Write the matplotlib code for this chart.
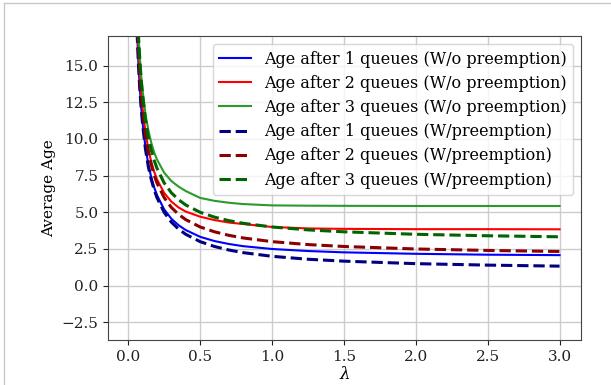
import matplotlib
matplotlib.use("Agg")
import matplotlib.pyplot as plt
from matplotlib.lines import Line2D

plt.rcParams['font.family'] = 'DejaVu Serif'
plt.rcParams['mathtext.fontset'] = 'dejavuserif'

# arrival rate
lam = [0.01, 0.03, 0.05, 0.06, 0.07, 0.08, 0.09, 0.1, 0.12, 0.14, 0.16, 0.18, 0.2,
       0.25, 0.3, 0.35, 0.4, 0.5, 0.6, 0.7, 0.8, 1.0, 1.25, 1.5, 2.0, 2.5, 3.0]

# without preemption
age_1_wo = [101.0, 34.36, 21.05, 17.72, 15.35, 13.57, 12.19, 11.09, 9.44, 8.27, 7.39, 6.71, 6.17,
            5.2, 4.56, 4.12, 3.79, 3.33, 3.04, 2.84, 2.69, 2.5, 2.36, 2.27, 2.17, 2.11, 2.08]
age_2_wo = [102.0, 35.35, 22.05, 18.7, 16.35, 14.57, 13.2, 12.1, 10.45, 9.3, 8.45, 7.78, 7.25,
            6.32, 5.73, 5.33, 5.05, 4.7, 4.47, 4.3, 4.2, 4.0, 3.9, 3.87, 3.85, 3.85, 3.84]
age_3_wo = [103.0, 36.4, 23.1, 19.85, 17.5, 15.7, 14.35, 13.3, 11.7, 10.6, 9.75, 9.1, 8.6,
            7.7, 7.13, 6.75, 6.45, 5.98, 5.78, 5.65, 5.56, 5.47, 5.45, 5.44, 5.43, 5.43, 5.43]

# with preemption
age_1_w = [101.0, 34.3, 21.0, 17.7, 15.3, 13.5, 12.1, 11.0, 9.3, 8.1, 7.25, 6.55, 6.0,
           5.0, 4.33, 3.86, 3.5, 3.0, 2.67, 2.43, 2.25, 2.0, 1.8, 1.67, 1.5, 1.4, 1.33]
age_2_w = [102.0, 35.3, 22.0, 18.7, 16.3, 14.5, 13.1, 12.0, 10.3, 9.1, 8.25, 7.55, 7.0,
           6.0, 5.33, 4.86, 4.5, 4.0, 3.67, 3.43, 3.25, 3.0, 2.8, 2.67, 2.5, 2.4, 2.33]
age_3_w = [103.0, 36.3, 23.0, 19.7, 17.3, 15.5, 14.1, 13.0, 11.3, 10.1, 9.25, 8.55, 8.0,
           7.0, 6.33, 5.86, 5.5, 5.0, 4.67, 4.43, 4.25, 4.0, 3.8, 3.67, 3.5, 3.4, 3.33]

fig = plt.figure(figsize=(6.11, 3.85), dpi=100)
ax = fig.add_axes([0.177, 0.117, 0.774, 0.789])

ax.plot(lam, age_1_wo, color='blue', lw=1.5, label='Age after 1 queues (W/o preemption)')
ax.plot(lam, age_2_wo, color='red', lw=1.5, label='Age after 2 queues (W/o preemption)')
ax.plot(lam, age_3_wo, color='#2a9a2a', lw=1.5, label='Age after 3 queues (W/o preemption)')
ax.plot(lam, age_1_w, color='navy', lw=2.2, ls='--', label='Age after 1 queues (W/preemption)')
ax.plot(lam, age_2_w, color='darkred', lw=2.2, ls='--', label='Age after 2 queues (W/preemption)')
ax.plot(lam, age_3_w, color='darkgreen', lw=2.2, ls='--', label='Age after 3 queues (W/preemption)')

ax.set_ylim(-3.7, 17.0)
ax.set_yticks([-2.5, 0.0, 2.5, 5.0, 7.5, 10.0, 12.5, 15.0])
ax.grid(color='#cccccc', lw=1)
ax.tick_params(labelsize=11, colors='#222222')
for s in ax.spines.values():
    s.set_color('#444444')

ax.set_xlabel(r'$\lambda$', fontsize=12, labelpad=2)
ax.set_ylabel('Average Age', fontsize=11)
ax.legend(loc='upper right', fontsize=11.5, handlelength=2.0, labelspacing=0.45,
          borderaxespad=0.5, handletextpad=0.8)

# frame lines of the screenshot
fig.add_artist(Line2D([0.0065, 0.0065], [0, 0.993], color='#c8c8c8', lw=1))
fig.add_artist(Line2D([0.0065, 1], [0.993, 0.993], color='#c8c8c8', lw=1))

plt.savefig('out.png', dpi=100)
